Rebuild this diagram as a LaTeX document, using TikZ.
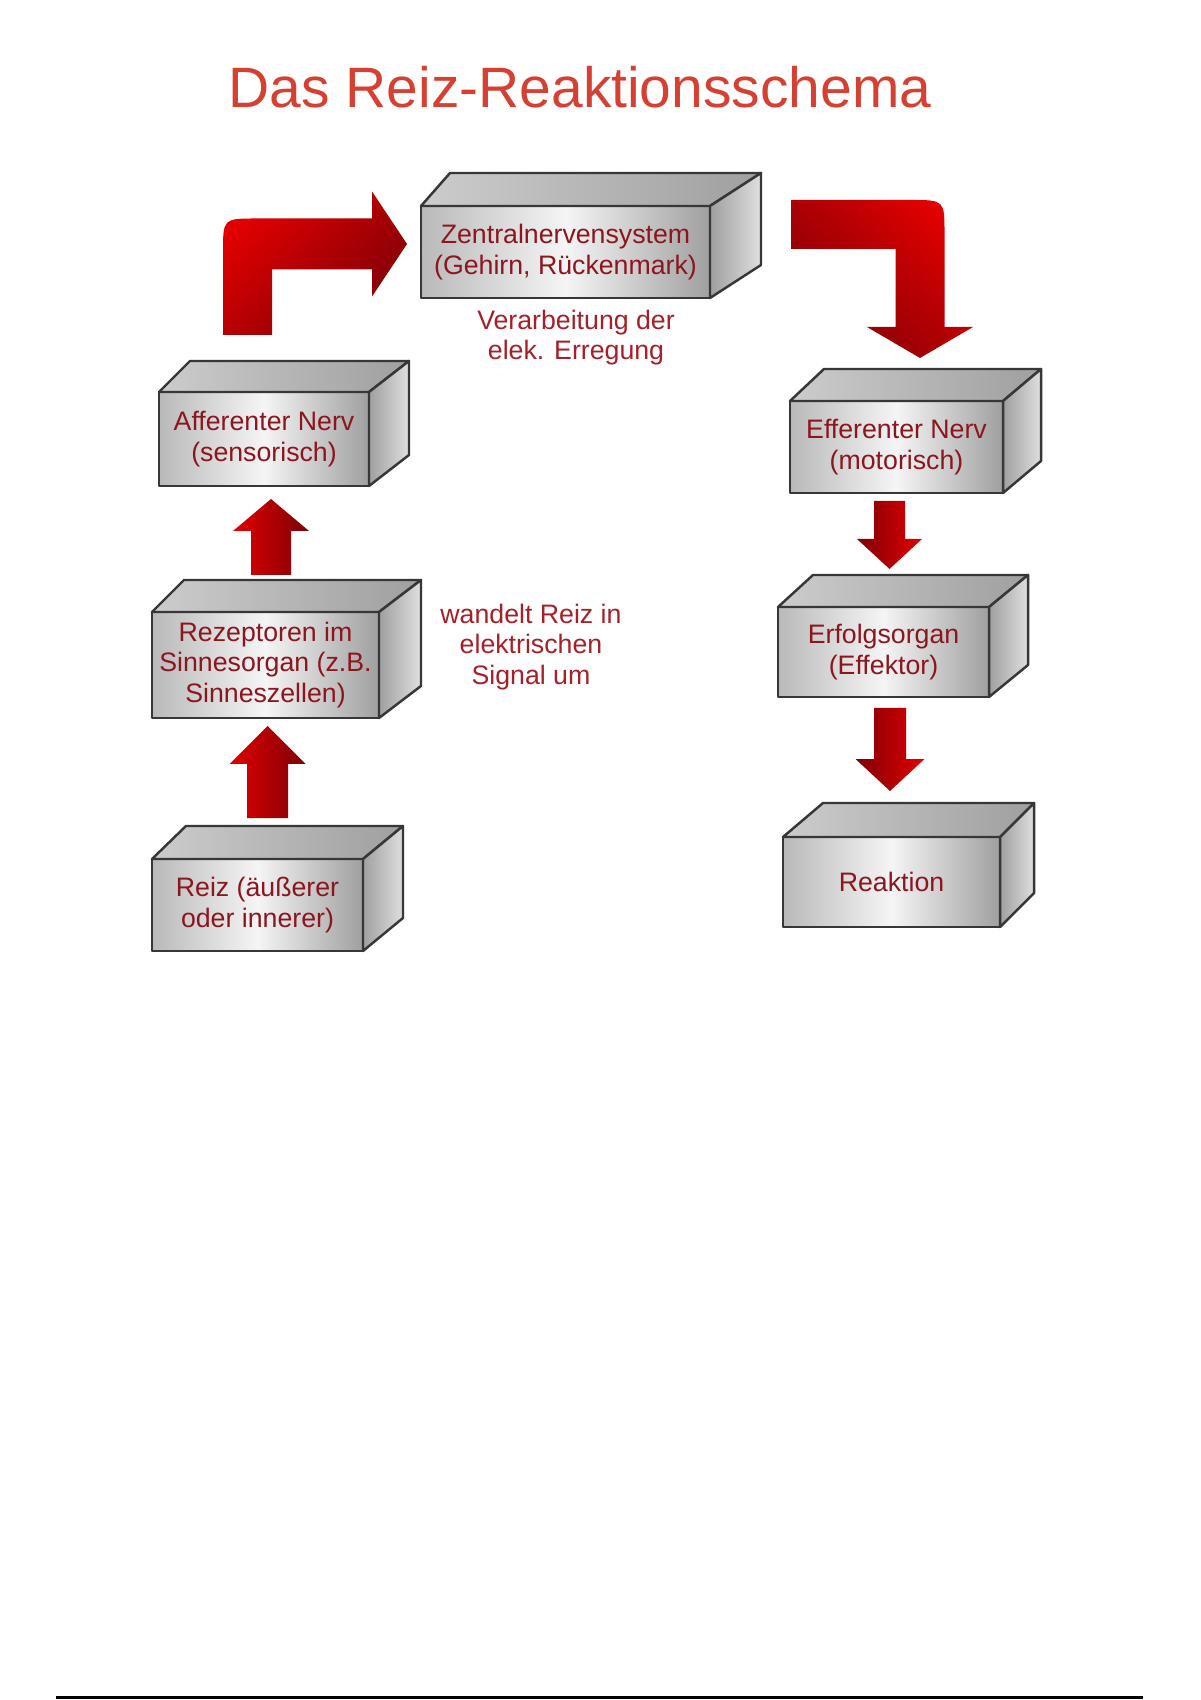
\documentclass[tikz,border=0pt]{standalone}
\usepackage{fontspec}
\setmainfont{Liberation Sans}
\usetikzlibrary{calc,positioning}

\definecolor{titlered}{RGB}{214,64,50}
\definecolor{boxtext}{RGB}{140,22,32}
\definecolor{notetext}{RGB}{165,32,40}
\definecolor{boxline}{RGB}{55,55,55}
\definecolor{arrowred}{RGB}{225,0,0}
\definecolor{arrowdark}{RGB}{125,0,8}

% top and right face of a box drawn behind its front node
\newcommand{\cubo}[4]{%
  \draw[topface] (#1.north west) -- ++(#2,-#4) -- ($(#1.north east)+(#3,-#4)$) -- (#1.north east) -- cycle;
  \draw[sideface] (#1.north east) -- ($(#1.north east)+(#3,-#4)$) -- ($(#1.south east)+(#3,-#4)$) -- (#1.south east) -- cycle;
}

% straight block arrow: start, tip, half shaft, half head, head length
\newcommand{\fatarrow}[6][upshade]{%
  \coordinate (fs) at (#2);
  \coordinate (ft) at (#3);
  \coordinate (fh) at ($(ft)!#6!(fs)$);
  \shade[#1] ($(fs)!#4!90:(ft)$) -- ($(fh)!#4!-90:(fs)$) -- ($(fh)!#5!-90:(fs)$) -- (ft)
    -- ($(fh)!#5!90:(fs)$) -- ($(fh)!#4!90:(fs)$) -- ($(fs)!#4!-90:(ft)$) -- cycle;
}

\tikzset{
  boxfront/.style={draw=boxline, line width=0.7pt, line join=round,
    left color=gray!55, right color=gray!75, middle color=white!92!gray,
    font=\fontsize{7.6}{8.7}\selectfont, text=boxtext, align=center,
    inner sep=0pt, outer sep=0pt},
  topface/.style={draw=boxline, line width=0.7pt, line join=round,
    left color=gray!40, right color=gray!75},
  sideface/.style={draw=boxline, line width=0.7pt, line join=round,
    left color=gray!75, right color=gray!25},
  note/.style={font=\fontsize{7.6}{8.7}\selectfont, text=notetext, align=center},
  upshade/.style={left color=arrowred, right color=arrowdark},
  downshade/.style={left color=arrowdark, right color=arrowred},
  bentl/.style={top color=arrowred, bottom color=arrowdark, shading angle=45},
  bentr/.style={top color=arrowred, bottom color=arrowdark, shading angle=-45}
}

\begin{document}
\begin{tikzpicture}[x=0.1mm,y=-0.1mm]
\useasboundingbox (0,0) rectangle (1200,1700);
\fill[white] (0,0) rectangle (1200,1700);

\node[font=\fontsize{16.2}{19}\selectfont, text=titlered, anchor=base] (title) at (580,108) {Das Reiz-Reaktionsschema};

% boxes
\node[boxfront, minimum width=28.9mm, minimum height=9.2mm] (zns) at (565.5,252) {Zentralnervensystem\\(Gehirn, Rückenmark)};
\node[boxfront, minimum width=21mm, minimum height=9.4mm] (aff) at (264,439) {Afferenter Nerv\\(sensorisch)};
\node[boxfront, minimum width=22.7mm, minimum height=10.6mm] (rez) at (265.5,665) {Rezeptoren im\\Sinnesorgan (z.B.\\Sinneszellen)};
\node[boxfront, minimum width=21.1mm, minimum height=9.2mm] (reiz) at (257.5,905) {Reiz (äußerer\\oder innerer)};
\node[boxfront, minimum width=21.3mm, minimum height=9.2mm] (eff) at (896.5,447) {Efferenter Nerv\\(motorisch)};
\node[boxfront, minimum width=21.1mm, minimum height=9mm] (erf) at (883.5,652) {Erfolgsorgan\\(Effektor)};
\node[boxfront, minimum width=21.7mm, minimum height=9mm] (reak) at (891.5,882) {Reaktion};

\cubo{zns}{29}{51}{33}
\cubo{aff}{31}{40}{31}
\cubo{rez}{32}{42}{32}
\cubo{reiz}{34}{40}{33}
\cubo{eff}{34}{38}{32}
\cubo{erf}{35}{39}{32}
\cubo{reak}{40}{34}{34}

\node[note] (verarb) at (576,337.5) {Verarbeitung der\\elek. Erregung};
\node[note] (wandelt) at (531,647) {wandelt Reiz in\\elektrischen\\Signal um};

% bent arrow up to the ZNS
\coordinate (bls) at ($(aff.north)+(-16.5,-57)$);
\coordinate (blt) at ($(zns.west)+(-14,-8)$);
\coordinate (blc) at ($(bls|-blt)+(-24.5,-25.5)$);
\shade[bentl] ($(bls)+(-24.5,0)$) -- ($(blc)+(0,34)$) .. controls (blc) .. ($(blc)+(34,0)$)
  -- ($(blt)+(-35,-25.5)$) -- ($(blt)+(-35,-52.5)$) -- (blt) -- ($(blt)+(-35,52.5)$)
  -- ($(blt)+(-35,25.5)$) -- ($(bls|-blt)+(24.5,25.5)$) -- ($(bls)+(24.5,0)$) -- cycle;

% bent arrow down from the ZNS
\coordinate (brs) at ($(zns.east)+(81,-27.5)$);
\coordinate (brt) at ($(eff.north)+(23.5,-43)$);
\coordinate (brc) at ($(brt|-brs)+(24.5,-24.5)$);
\shade[bentr] ($(brs)+(0,-24.5)$) -- ($(brc)+(-34,0)$) .. controls (brc) .. ($(brc)+(0,34)$)
  -- ($(brt)+(24.5,-31)$) -- ($(brt)+(53,-31)$) -- (brt) -- ($(brt)+(-53,-31)$)
  -- ($(brt)+(-24.5,-31)$) -- ($(brt|-brs)+(-24.5,24.5)$) -- ($(brs)+(0,24.5)$) -- cycle;

% straight arrows
\fatarrow{$(rez.north)+(5.5,-37)$}{$(aff.south)+(7,13)$}{2mm}{3.8mm}{3.2mm}
\fatarrow{$(reiz.north)+(10,-41)$}{$(rez.south)+(2,8)$}{2.05mm}{3.8mm}{3.8mm}
\fatarrow[downshade]{$(eff.south)+(-7,8)$}{$(erf.north)+(6,-38)$}{1.55mm}{3.25mm}{3mm}
\fatarrow[downshade]{$(erf.south)+(6.5,11)$}{$(reak.north)+(-1.5,-46)$}{1.6mm}{3.45mm}{3.2mm}

\draw[line width=0.3mm] (56,1697) -- (1143,1697);
\end{tikzpicture}
\end{document}
